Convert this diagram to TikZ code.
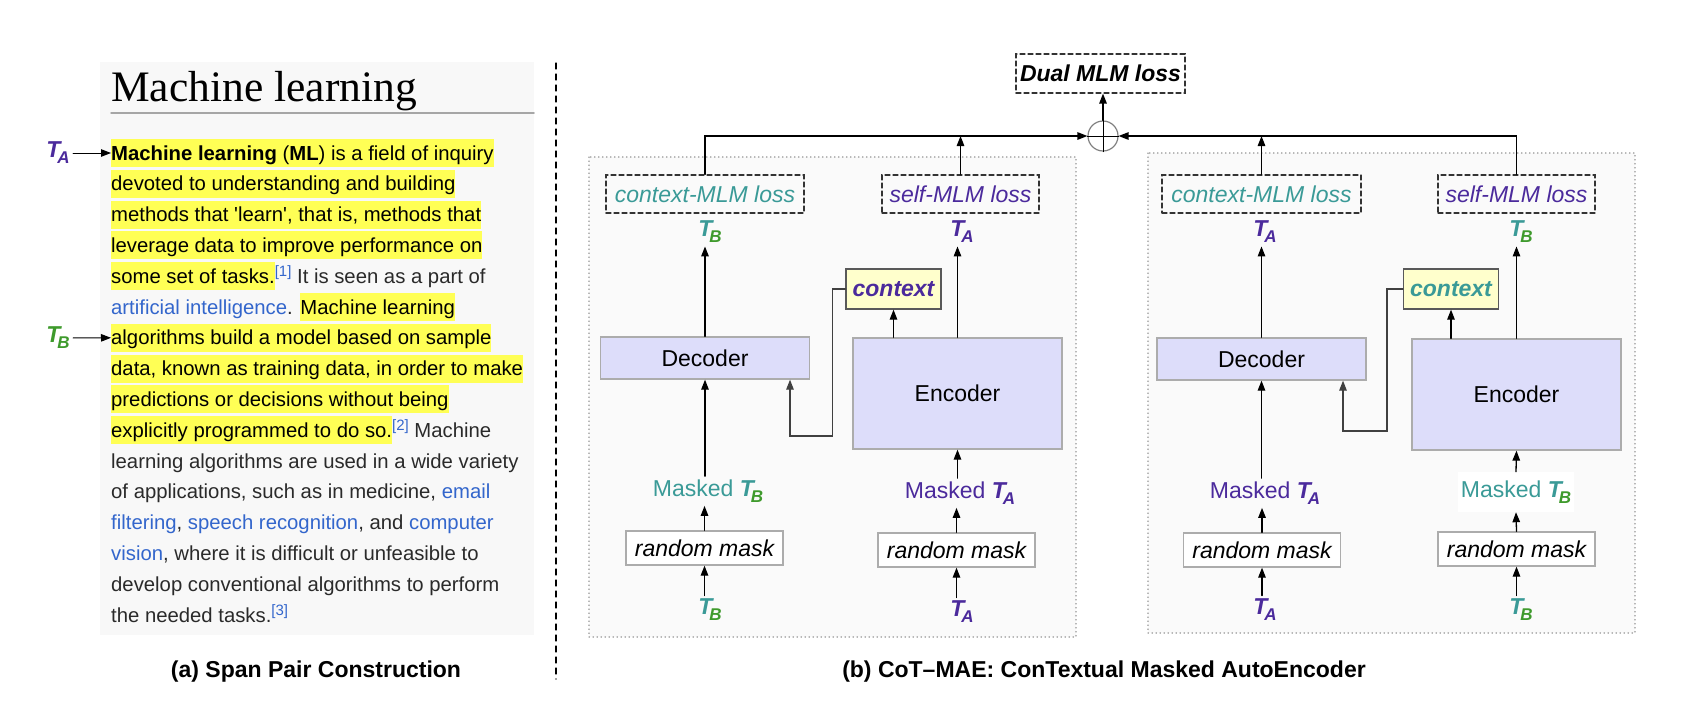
\documentclass[tikz,border=0pt]{standalone}
\usepackage{fontspec}
\setsansfont{Liberation Sans}
\newfontfamily\wikiserif{Liberation Serif}
\usepackage{tikz}
\usetikzlibrary{arrows.meta}

\definecolor{hlyellow}{HTML}{FFFF55}
\definecolor{wikibg}{HTML}{F8F8F8}
\definecolor{wikitext}{HTML}{2A2A2A}
\definecolor{wikilink}{HTML}{3366CC}
\definecolor{cteal}{HTML}{3A9A97}
\definecolor{cpurple}{HTML}{4B2A9C}
\definecolor{cgreen}{HTML}{3E9A2C}

\newcommand\dfont{\sffamily\fontsize{23}{27}\selectfont}
\newcommand\hl[1]{{\setlength\fboxsep{0pt}\colorbox{hlyellow}{\rule[-7pt]{0pt}{28pt}\color{black}#1}}}
\newcommand\wlink[1]{\textcolor{wikilink}{#1}}
\newcommand\wref[1]{\raisebox{7pt}{\fontsize{15}{15}\selectfont\textcolor{wikilink}{[#1]}}}
\newcommand\Tlab[3]{{\bfseries\itshape\textcolor{#1}{T}\kern-3pt\raisebox{-6pt}{\fontsize{17}{17}\selectfont\textcolor{#2}{#3}}}}
\newcommand\TA{\Tlab{cpurple}{cpurple}{A}}
\newcommand\TB{\Tlab{cteal}{cgreen}{B}}

\begin{document}
\begin{tikzpicture}
		[x=1pt,y=-1pt,line cap=round,font=\dfont,
		%Styles
		panel/.style={draw=gray!60,dash pattern=on 0.5pt off 3.5pt,line width=1.1pt,fill=panelbg},
		lossbox/.style={draw=black!80,dash pattern=on 5pt off 3pt,line width=1.2pt,minimum height=38pt,font=\dfont\itshape},
		coder/.style={draw=gray!65,fill=coderfill,line width=1.3pt,minimum width=209pt},
		ctxbox/.style={draw=black!65,fill=ctxfill,line width=1.3pt,minimum width=95pt,minimum height=40pt,font=\dfont\bfseries\itshape},
		maskbox/.style={draw=gray!65,fill=white,line width=1.3pt,minimum width=157pt,minimum height=34pt,font=\dfont\itshape},
		arr/.style={-{Triangle[length=10pt,width=7.5pt]},line width=1.3pt},
		wikiline/.style={anchor=base west,inner sep=0pt,text=wikitext,font=\sffamily\fontsize{20.3}{30.8}\selectfont},
		caption/.style={font=\dfont\bfseries}
		]
		
		%Colors
		\definecolor{panelbg}{HTML}{FAFAFA}
		\definecolor{coderfill}{HTML}{DDDDFA}
		\definecolor{ctxfill}{HTML}{FFFFCC}
		\colorlet{linkgray}{black!75}
		
		\useasboundingbox (0,0) rectangle (1682,710);
		
		%(a) the wiki page
		\fill[wikibg] (100,62) rectangle (534,635);
		\node[anchor=base west,inner sep=0pt,font=\wikiserif\fontsize{43.5}{46}\selectfont] (title) at (111,101) {Machine learning};
		\draw[gray!70,line width=1.5pt] (111,113) -- (534,113);
		\foreach \txt [count=\i] in {
			{\hl{\textbf{Machine learning} (\textbf{ML}) is a field of inquiry}},
			{\hl{devoted to understanding and building}},
			{\hl{methods that \textquotesingle learn\textquotesingle, that is, methods that}},
			{\hl{leverage data to improve performance on}},
			{\hl{some set of tasks.}\wref{1} It is seen as a part of},
			{\wlink{artificial intelligence}. \hl{Machine learning}},
			{\hl{algorithms build a model based on sample}},
			{\hl{data, known as training data, in order to make}},
			{\hl{predictions or decisions without being}},
			{\hl{explicitly programmed to do so.}\wref{2} Machine},
			{learning algorithms are used in a wide variety},
			{of applications, such as in medicine, \wlink{email}},
			{\wlink{filtering}, \wlink{speech recognition}, and \wlink{computer}},
			{\wlink{vision}, where it is difficult or unfeasible to},
			{develop conventional algorithms to perform},
			{the needed tasks.\wref{3}}}
			\node[wikiline] (l\i) at (111,{160+30.8*(\i-1)}) {\txt};
		\node (spanA) at (58,153) {\Tlab{cpurple}{cpurple}{A}};
		\node (spanB) at (58,338) {\Tlab{cgreen}{cgreen}{B}};
		\draw[arr,line width=1pt] (spanA) -- (l1.west);
		\draw[arr,line width=1pt] (spanB) -- (l7.west);
		\node[caption] (capA) at (316,672) {(a) Span Pair Construction};
		
		\draw[line width=1.2pt,dash pattern=on 6pt off 5pt] (556,63) -- (556,679);
		
		%(b) left block
		\draw[panel] (589,157) rectangle (1076,637);
		\node[lossbox,minimum width=198pt,text=cteal] (ctxlossL) at (705,194) {context-MLM loss};
		\node[lossbox,minimum width=157pt,text=cpurple] (selflossL) at (960.5,194) {self-MLM loss};
		\node (tbL) at (710,232) {\TB};
		\node (taL) at (962,232) {\TA};
		\node[coder,minimum height=42pt] (decL) at (705,358) {Decoder};
		\node[coder,minimum height=111pt] (encL) at (957.5,393.5) {Encoder};
		\node[ctxbox,text=cpurple] (ctxL) at (893.5,289) {context};
		\node[text=cteal] (mtbL) at (708,491) {Masked \TB};
		\node[text=cpurple] (mtaL) at (960,493) {Masked \TA};
		\node[maskbox] (rmbL) at (704.5,548) {random mask};
		\node[maskbox] (rmaL) at (956.5,550) {random mask};
		\node (inbL) at (710,610) {\TB};
		\node (inaL) at (962,612) {\TA};
		\coordinate (bendL) at (790,436);
		
		\draw[arr] (inbL.north -| rmbL) -- (rmbL.south);
		\draw[arr] (rmbL.north) -- (rmbL.north |- mtbL.south);
		\draw[arr] (mtbL.north -| decL) -- (decL.south);
		\draw[arr] (decL.north) -- (decL.north |- tbL.south);
		\draw[arr] (inaL.north -| rmaL) -- (rmaL.south);
		\draw[arr] (rmaL.north) -- (rmaL.north |- mtaL.south);
		\draw[arr] (mtaL.north -| encL) -- (encL.south);
		\draw[arr] (encL.north) -- (encL.north |- taL.south);
		\draw[arr] (ctxL.south |- encL.north) -- (ctxL.south);
		\draw[arr,draw=linkgray] (ctxL.west) -- ++(-13,0) |- (bendL) -- (bendL |- decL.south);
		
		%(b) right block
		\draw[panel] (1148,153) rectangle (1635,633);
		\node[lossbox,minimum width=199pt,text=cteal] (ctxlossR) at (1261.5,194) {context-MLM loss};
		\node[lossbox,minimum width=157pt,text=cpurple] (selflossR) at (1516.5,194) {self-MLM loss};
		\node (taR) at (1265,232) {\TA};
		\node (tbR) at (1521,232) {\TB};
		\node[coder,minimum height=42pt] (decR) at (1261.5,359) {Decoder};
		\node[coder,minimum height=111pt] (encR) at (1516.5,394.5) {Encoder};
		\node[ctxbox,text=cteal] (ctxR) at (1451,289) {context};
		\node[text=cpurple] (mtaR) at (1265,493) {Masked \TA};
		\node[text=cteal,fill=white,minimum width=114pt,minimum height=40pt] (mtbR) at (1516,492) {Masked \TB};
		\node[maskbox] (rmaR) at (1262,550) {random mask};
		\node[maskbox] (rmbR) at (1516.5,549) {random mask};
		\node (inaR) at (1265,610) {\TA};
		\node (inbR) at (1521,610) {\TB};
		\coordinate (bendR) at (1343,431);
		
		\draw[arr] (inaR.north -| rmaR) -- (rmaR.south);
		\draw[arr] (rmaR.north) -- (rmaR.north |- mtaR.south);
		\draw[arr] (mtaR.north -| decR) -- (decR.south);
		\draw[arr] (decR.north) -- (decR.north |- taR.south);
		\draw[arr] (inbR.north -| rmbR) -- (rmbR.south);
		\draw[arr] (rmbR.north) -- (mtbR.south);
		\draw[arr] (mtbR.north) -- (encR.south);
		\draw[arr] (encR.north) -- (encR.north |- tbR.south);
		\draw[arr] (ctxR.south |- encR.north) -- (ctxR.south);
		\draw[arr,draw=linkgray] (ctxR.west) -- ++(-16,0) |- (bendR) -- (bendR |- decR.south);
		
		%Dual loss
		\node[lossbox,minimum width=169pt,minimum height=39pt,font=\dfont\bfseries\itshape] (dual) at (1100.5,73.5) {Dual MLM loss};
		\node[circle,draw=gray,line width=1.2pt,minimum size=30pt,inner sep=0pt] (circ) at (1103,136) {};
		\draw[line width=1pt] (circ.north) -- (circ.south) (circ.west) -- (circ.east);
		\draw[arr] (circ.north) -- (circ.north |- dual.south);
		\draw[arr] (ctxlossL.north) |- (circ.west);
		\draw[arr] (selflossL.north) -- (selflossL.north |- circ);
		\draw[arr] (ctxlossR.north) -- (ctxlossR.north |- circ);
		\draw[arr] (selflossR.north) |- (circ.east);
		
		\node[caption] (capB) at (1104,672) {(b) CoT--MAE: ConTextual Masked AutoEncoder};
	\end{tikzpicture}
\end{document}
